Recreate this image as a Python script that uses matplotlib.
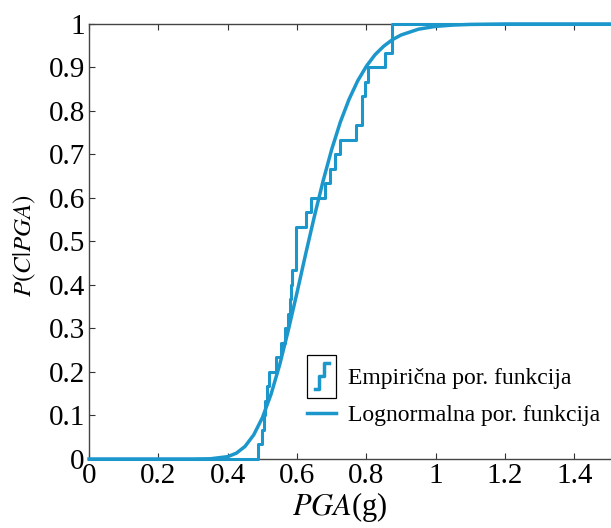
import matplotlib
matplotlib.use("Agg")
import matplotlib.pyplot as plt
from matplotlib.legend_handler import HandlerBase
from matplotlib.lines import Line2D
from matplotlib.patches import Rectangle

plt.rcParams['font.family'] = ['Liberation Serif', 'DejaVu Serif']
plt.rcParams['mathtext.fontset'] = 'stix'

# sorted PGA values (g) behind the empirical fragility steps
pga_obs = [0.487, 0.499, 0.505, 0.507, 0.512, 0.519, 0.540, 0.555,
           0.565, 0.575, 0.580, 0.583, 0.586, 0.597, 0.597, 0.597,
           0.625, 0.640, 0.680, 0.695, 0.709, 0.723, 0.770, 0.787,
           0.787, 0.795, 0.804, 0.853, 0.873, 0.873]

# lognormal fragility curve
fit_pga = [0.0, 0.30, 0.35, 0.40, 0.425, 0.45, 0.475, 0.50, 0.525, 0.55,
           0.575, 0.60, 0.625, 0.65, 0.675, 0.70, 0.725, 0.75, 0.775,
           0.80, 0.825, 0.85, 0.875, 0.90, 0.95, 1.00, 1.05, 1.10, 1.20, 1.60]
fit_prob = [0.0, 0.0, 0.0005, 0.0054, 0.0134, 0.029, 0.0555, 0.095, 0.149,
            0.217, 0.297, 0.383, 0.472, 0.558, 0.639, 0.712, 0.775, 0.827,
            0.8695, 0.903, 0.9295, 0.949, 0.964, 0.9747, 0.988, 0.9945,
            0.9975, 0.999, 1.0, 1.0]

x_ticks = [0, 0.2, 0.4, 0.6, 0.8, 1.0, 1.2, 1.4]
x_labels = ['0', '0.2', '0.4', '0.6', '0.8', '1', '1.2', '1.4']
y_ticks = [0, 0.1, 0.2, 0.3, 0.4, 0.5, 0.6, 0.7, 0.8, 0.9, 1.0]
y_labels = ['0', '0.1', '0.2', '0.3', '0.4', '0.5', '0.6', '0.7', '0.8', '0.9', '1']

blue = '#1c97cc'


class StepHandler(HandlerBase):
    # boxed staircase icon like the matlab legend
    def create_artists(self, legend, orig_handle, xdescent, ydescent,
                       width, height, fontsize, trans):
        h = height * 2.6
        y0 = -ydescent + height / 2 - h / 2
        box = Rectangle((-xdescent, y0), width, h, fill=False,
                        edgecolor='black', lw=0.9, transform=trans)
        x0 = -xdescent
        xs = [x0 + 0.25 * width, x0 + 0.42 * width, x0 + 0.42 * width,
              x0 + 0.58 * width, x0 + 0.58 * width, x0 + 0.75 * width]
        ys = [y0 + 0.2 * h, y0 + 0.2 * h, y0 + 0.5 * h,
              y0 + 0.5 * h, y0 + 0.8 * h, y0 + 0.8 * h]
        step = Line2D(xs, ys, color=blue, lw=2.5, transform=trans)
        return [box, step]


def main():
    fig = plt.figure(figsize=(6.11, 5.28), dpi=100)
    ax = fig.add_axes([0.1457, 0.1307, 0.908, 0.8239])

    n = len(pga_obs)
    xs = [0.0] + pga_obs + [1.6]
    ys = [0.0] + [(i + 1) / n for i in range(n)] + [1.0]
    emp, = ax.step(xs, ys, where='post', color=blue, lw=2.2,
                   clip_on=False, zorder=3)
    fit, = ax.plot(fit_pga, fit_prob, color=blue, lw=2.5,
                   clip_on=False, zorder=3)

    ax.set_xlim(0, 1.6)
    ax.set_ylim(0, 1)
    ax.set_xticks(x_ticks)
    ax.set_xticklabels(x_labels)
    ax.set_yticks(y_ticks)
    ax.set_yticklabels(y_labels)
    ax.tick_params(direction='in', length=4, width=0.8, labelsize=21,
                   top=True, right=True, pad=3, colors='#333333',
                   labelcolor='black')
    for sp in ax.spines.values():
        sp.set_color('#444444')
        sp.set_linewidth(1.0)

    ax.set_xlabel(r'$PGA$(g)', fontsize=22)
    ax.xaxis.set_label_coords(0.452, -0.072)
    ax.set_ylabel(r'$P(C|PGA)$', fontsize=18)
    ax.yaxis.set_label_coords(-0.092, 0.49)

    fig.legend([emp, fit], ['Empirična por. funkcija', 'Lognormalna por. funkcija'],
               handler_map={emp: StepHandler()}, loc='lower right',
               bbox_to_anchor=(0.997, 0.175), frameon=False, fontsize=17,
               handlelength=1.2, handletextpad=0.5, labelspacing=0.65,
               borderaxespad=0.0)

    fig.savefig('out.png', dpi=100)


if __name__ == "__main__":
    main()
